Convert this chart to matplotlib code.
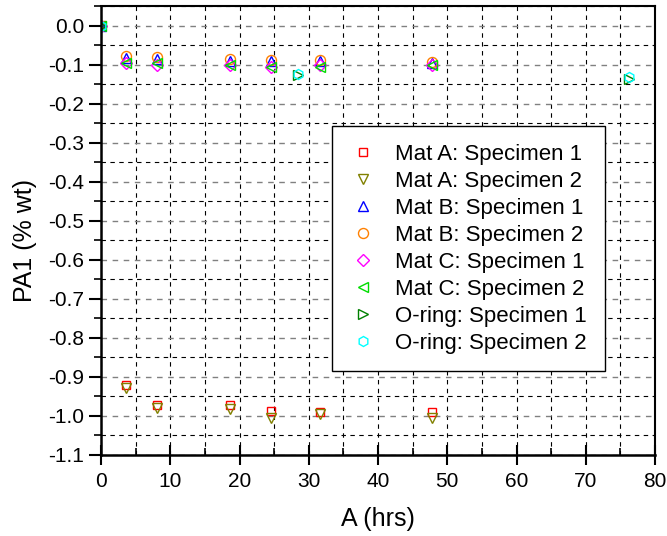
import matplotlib
matplotlib.use("Agg")
import matplotlib.pyplot as plt
from matplotlib.ticker import MultipleLocator

plt.rcParams['font.family'] = ['Liberation Sans', 'DejaVu Sans']

t_main = [0.0, 3.6, 8.1, 18.7, 24.5, 31.6, 47.8]
mat_a1 = [0.0, -0.921, -0.973, -0.972, -0.987, -0.989, -0.990]
mat_a2 = [0.0, -0.928, -0.980, -0.981, -1.004, -0.995, -1.005]
mat_b1 = [0.0, -0.083, -0.085, -0.090, -0.090, -0.092, -0.095]
mat_b2 = [0.0, -0.079, -0.081, -0.086, -0.088, -0.089, -0.094]
mat_c1 = [0.0, -0.096, -0.100, -0.100, -0.105, -0.100, -0.100]
mat_c2 = [0.0, -0.096, -0.097, -0.100, -0.105, -0.105, -0.100]
t_oring = [0.0, 28.4, 76.3]
oring1 = [0.0, -0.128, -0.137]
oring2 = [0.0, -0.124, -0.131]

series = [
    ("Mat A: Specimen 1", t_main, mat_a1, 's', '#ff0000'),
    ("Mat A: Specimen 2", t_main, mat_a2, 'v', '#808000'),
    ("Mat B: Specimen 1", t_main, mat_b1, '^', '#0000ff'),
    ("Mat B: Specimen 2", t_main, mat_b2, 'o', '#ff8000'),
    ("Mat C: Specimen 1", t_main, mat_c1, 'D', '#ff00ff'),
    ("Mat C: Specimen 2", t_main, mat_c2, '<', '#00dd00'),
    ("O-ring: Specimen 1", t_oring, oring1, '>', '#008000'),
    ("O-ring: Specimen 2", t_oring, oring2, 'h', '#00ffff'),
]

fig = plt.figure(figsize=(6.67, 5.36), dpi=100)
ax = fig.add_axes([101/667, 1-455/536, 554/667, 449/536])

for label, x, y, m, c in series:
    ms = {'s': 6.3, 'D': 6.0}.get(m, 7.2)
    ax.plot(x, y, linestyle='none', marker=m, markersize=ms, markerfacecolor='none',
            markeredgecolor=c, markeredgewidth=1.0, label=label)

ax.set_xlim(0, 80)
ax.set_ylim(-1.1, 0.05)
ax.xaxis.set_major_locator(MultipleLocator(10))
ax.xaxis.set_minor_locator(MultipleLocator(5))
ax.yaxis.set_minor_locator(MultipleLocator(0.05))
ax.set_yticks([round(-0.1*i, 1) for i in range(12)])
ax.set_yticklabels([f"{-0.1*i:.1f}" if i else "0.0" for i in range(12)])

ax.grid(True, which='major', axis='y', linestyle=(0, (4, 4)), color='#808080', linewidth=1.0)
ax.grid(True, which='minor', axis='y', linestyle=(0, (4, 4)), color='black', linewidth=0.8)
ax.grid(True, which='both', axis='x', linestyle=(0, (4, 4)), color='black', linewidth=0.8)
ax.set_axisbelow(True)

ax.tick_params(axis='y', which='major', direction='out', length=9, width=1.5, labelsize=15, pad=3)
ax.tick_params(axis='y', which='minor', direction='out', length=5, width=1.2)
ax.tick_params(axis='x', which='major', direction='inout', length=14, width=1.5, labelsize=15, pad=5)
ax.tick_params(axis='x', which='minor', direction='in', length=5, width=1.2)
ax.tick_params(top=False, right=False)
for s in ['left', 'bottom']:
    ax.spines[s].set_linewidth(1.8)
for s in ['top', 'right']:
    ax.spines[s].set_linewidth(1.5)

ax.set_xlabel("A (hrs)", fontsize=18, labelpad=12)
ax.set_ylabel("PA1 (% wt)", fontsize=18)
ax.yaxis.set_label_coords(-0.1155, 0.477)

leg = ax.legend(loc='upper left', bbox_to_anchor=(0.417, 0.733), fontsize=16,
                frameon=True, fancybox=False, edgecolor='black', framealpha=1,
                handlelength=1.2, handletextpad=0.85, borderpad=0.8,
                labelspacing=0.27, borderaxespad=0, markerscale=1.0)
leg.get_frame().set_linewidth(1.0)

fig.savefig("out.png", dpi=100)
